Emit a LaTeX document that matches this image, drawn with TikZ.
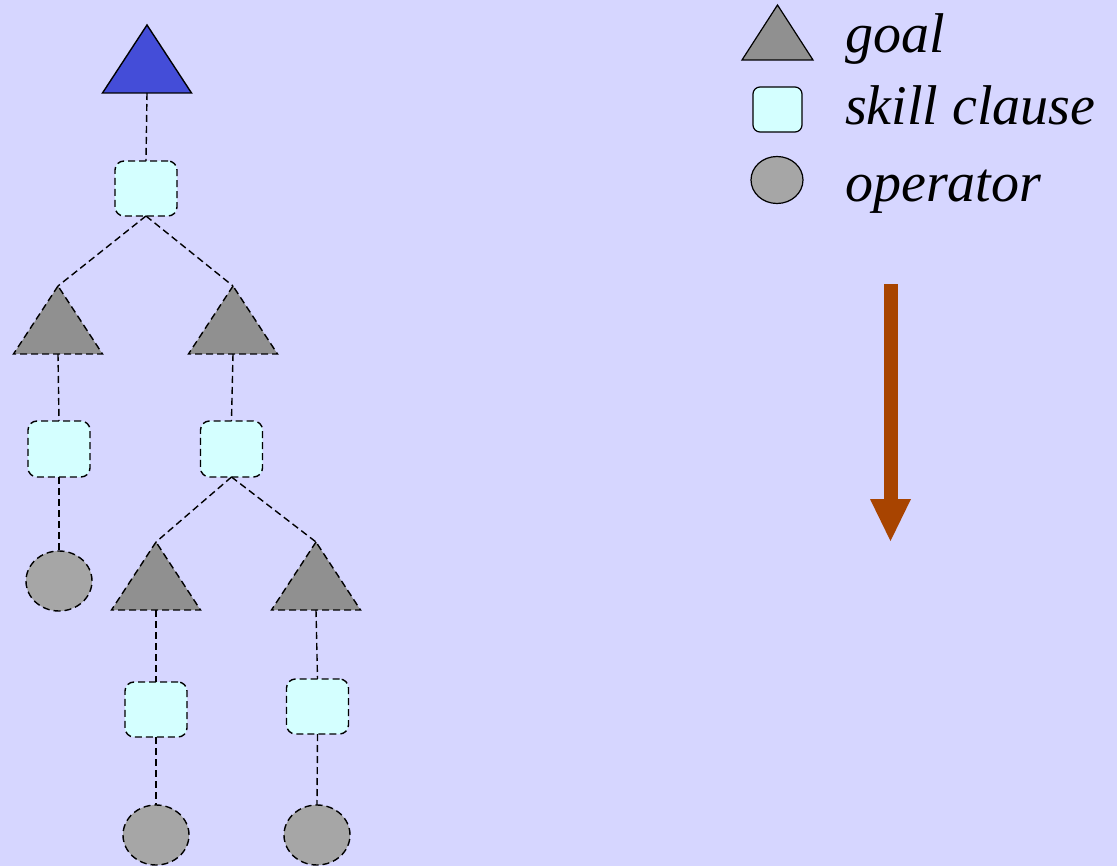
\documentclass[tikz,border=0pt]{standalone}
\usepackage{fontspec}
\setmainfont{Liberation Serif}
\usetikzlibrary{shapes.geometric}
\definecolor{bg}{HTML}{D6D6FF}
\definecolor{goalblue}{HTML}{444DD8}
\definecolor{goalgray}{HTML}{909090}
\definecolor{opgray}{HTML}{A6A6A6}
\definecolor{clausecyan}{HTML}{D4FFFF}
\definecolor{arrowbrown}{HTML}{A84400}
\tikzset{
  dashline/.style={line width=1.4pt, dash pattern=on 7pt off 4pt},
  goalnode/.style={isosceles triangle, shape border rotate=90,
    isosceles triangle stretches, inner sep=0pt, outer sep=0pt,
    draw=black, fill=goalgray, line width=1.4pt, anchor=lower side,
    minimum width=89pt, minimum height=68pt},
  clausenode/.style={rectangle, rounded corners=9pt, inner sep=0pt, outer sep=0pt,
    draw=black, fill=clausecyan, line width=1.4pt,
    minimum width=62pt, minimum height=56pt},
  opnode/.style={ellipse, inner sep=0pt, outer sep=0pt,
    draw=black, fill=opgray, line width=1.4pt,
    minimum width=66pt, minimum height=60pt},
  link/.style={draw=black, dashline},
  legendtext/.style={anchor=base west, inner sep=0pt,
    font=\fontsize{56}{60}\selectfont\itshape}
}
\begin{document}
\begin{tikzpicture}[x=1pt,y=-1pt]
  \fill[bg] (0,0) rectangle (1117,866);
  \useasboundingbox (0,0) rectangle (1117,866);

  % goal tree (triangles placed by the midpoint of their base)
  \node[goalnode, fill=goalblue] (g0) at (147,93) {};
  \node[clausenode, dashline, minimum height=55pt] (s0) at (146,188.5) {};
  \node[goalnode, dashline] (g1) at (58,354) {};
  \node[goalnode, dashline] (g2) at (233,354) {};
  \node[clausenode, dashline] (s1) at (59,449) {};
  \node[clausenode, dashline] (s2) at (231.5,449) {};
  \node[opnode, dashline] (o1) at (59,581) {};
  \node[goalnode, dashline] (g3) at (156,610) {};
  \node[goalnode, dashline] (g4) at (316,610) {};
  \node[clausenode, dashline, minimum height=55pt] (s3) at (156,709.5) {};
  \node[clausenode, dashline, minimum height=55pt] (s4) at (317.5,706.5) {};
  \node[opnode, dashline] (o2) at (156,835) {};
  \node[opnode, dashline] (o3) at (317,835) {};

  \draw[link] (g0.lower side) -- (s0.north);
  \draw[link] (s0.south) -- (g1.apex);
  \draw[link] (s0.south) -- (g2.apex);
  \draw[link] (g1.lower side) -- (s1.north);
  \draw[link] (g2.lower side) -- (s2.north);
  \draw[link] (s1.south) -- (o1.north);
  \draw[link] (s2.south) -- (g3.apex);
  \draw[link] (s2.south) -- (g4.apex);
  \draw[link] (g3.lower side) -- (s3.north);
  \draw[link] (g4.lower side) -- (s4.north);
  \draw[link] (s3.south) -- (o2.north);
  \draw[link] (s4.south) -- (o3.north);

  % legend
  \node[goalnode, line width=1.2pt, minimum width=71pt, minimum height=55pt] (lg) at (777.5,60) {};
  \node[clausenode, line width=1.2pt, minimum width=49pt, minimum height=45pt, rounded corners=7pt] (ls) at (777.5,109.5) {};
  \node[opnode, line width=1.2pt, minimum width=52pt, minimum height=47pt] (lo) at (777,180) {};
  \node[legendtext] (tg) at (845,53) {goal};
  \node[legendtext] (ts) at (845,125) {skill clause};
  \node[legendtext] (to) at (845,202) {operator};

  % direction arrow
  \fill[arrowbrown] (884,284) rectangle (898,500);
  \fill[arrowbrown] (870,499) -- (911,499) -- (890.5,541) -- cycle;
\end{tikzpicture}
\end{document}
